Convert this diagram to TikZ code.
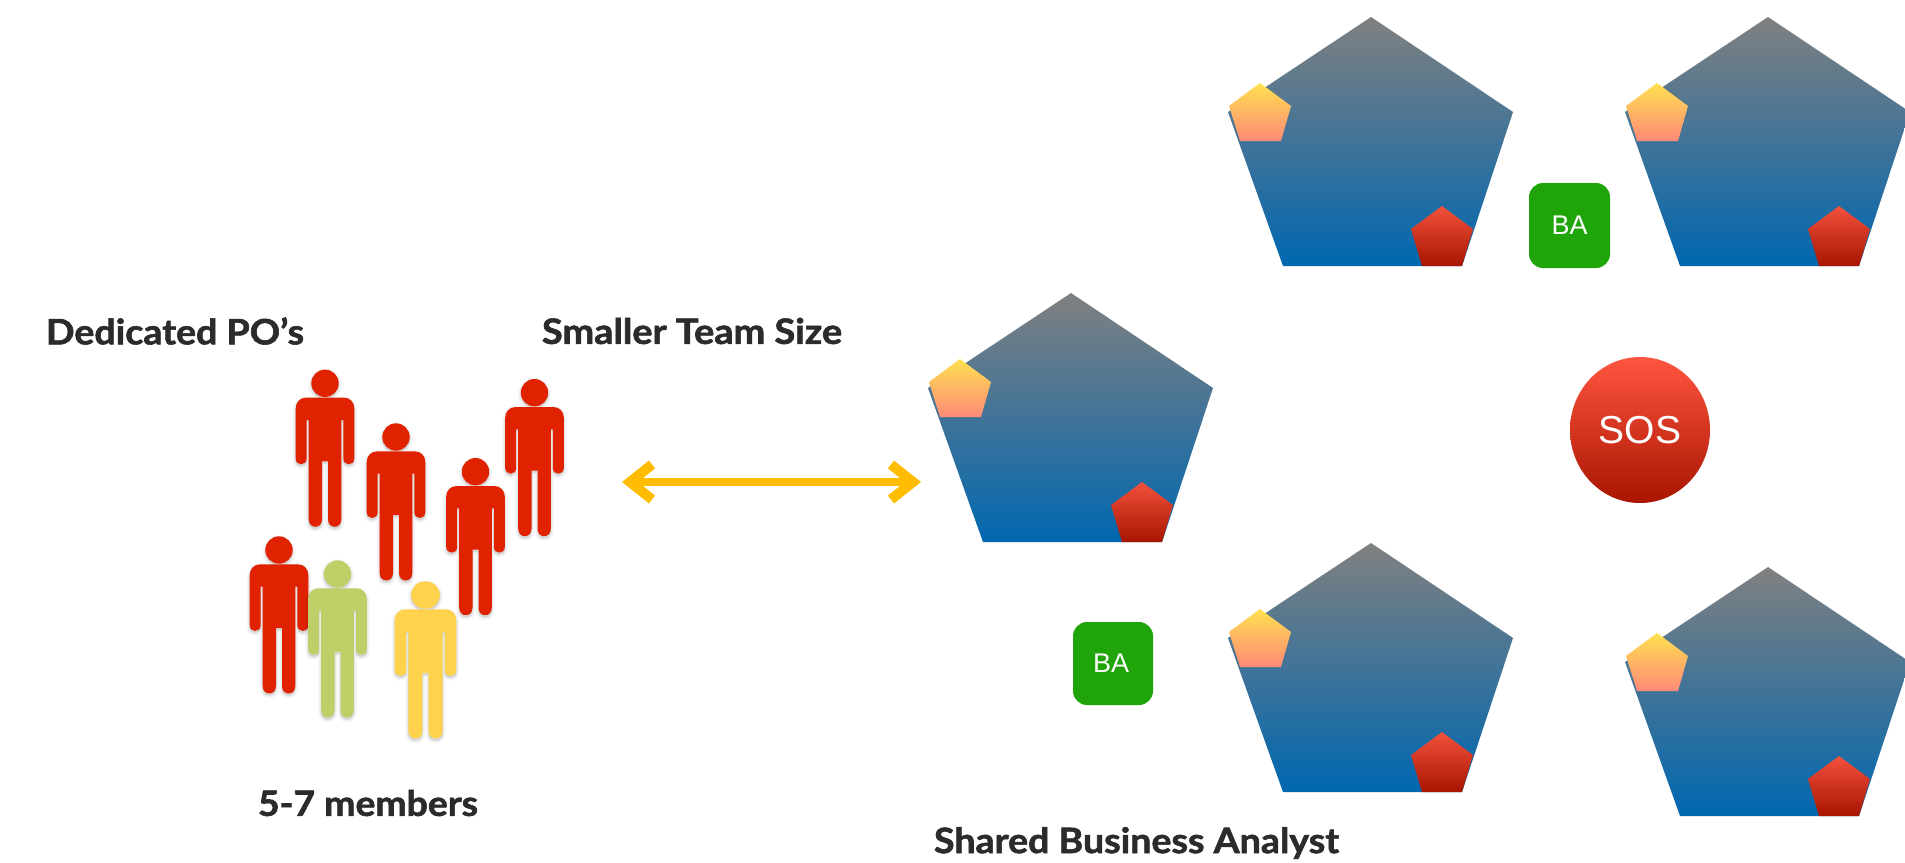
\documentclass[tikz,border=0pt]{standalone}
\usepackage{fontspec}
\usepackage{graphicx}
\setmainfont{Lato}[BoldFeatures={FakeBold=1.6}]
\newfontfamily\helv{Liberation Sans}
\usetikzlibrary{arrows.meta,shapes.geometric}
\definecolor{pred}{HTML}{E02200}
\definecolor{pgreen}{HTML}{BFCF68}
\definecolor{pyellow}{HTML}{FFD24E}
\definecolor{arrowc}{HTML}{FFBC00}
\definecolor{labelc}{HTML}{2B2B2B}
\definecolor{bagreen}{HTML}{1FA50A}
\definecolor{penttop}{HTML}{808080}
\definecolor{pentbot}{HTML}{0067B0}
\definecolor{ytop}{HTML}{FFE050}
\definecolor{ybot}{HTML}{FF8A78}
\definecolor{sostop}{HTML}{FF5540}
\definecolor{sosbot}{HTML}{A81500}
\tikzset{
  lab/.style={text=labelc,font=\bfseries\fontsize{35}{35}\selectfont,inner sep=0pt,anchor=center},
  babox/.style={fill=bagreen,rounded corners=14pt,inner sep=0pt,text=white,font=\helv\fontsize{27}{27}\selectfont},
  sosnode/.style={ellipse,minimum width=140pt,minimum height=146pt,inner sep=0pt,text=white,font=\helv\fontsize{39}{39}\selectfont,top color=sostop,bottom color=sosbot},
}
\newcommand{\teampent}[2]{%
  \begin{scope}[shift={(#1,#2)}]
    \shade[top color=penttop,bottom color=pentbot] (0,0) -- (142,95) -- (91,249) -- (-88,249) -- (-143,95) -- cycle;
    \shade[top color=ytop,bottom color=ybot] (-111,66) -- (-80,89) -- (-90,124) -- (-131,124) -- (-142,89) -- cycle;
    \shade[top color=sostop!95!black,bottom color=sosbot] (71,189) -- (102,212) -- (91,249) -- (51,249) -- (40,212) -- cycle;
  \end{scope}}
\newcommand{\personshape}{%
  (0,0) circle[radius=13.7]
  (-19,14.3) -- (19,14.3) .. controls (25,14.3) and (29.3,19) .. (29.3,25) -- (29.3,75)
  .. controls (29.3,83) and (18.3,83) .. (18.3,75) -- (18.3,36.7) -- (16.3,36.7) -- (16.3,136)
  .. controls (16.3,146) and (3,146) .. (3,136) -- (3,78) -- (-3,78) -- (-3,136)
  .. controls (-3,146) and (-16.3,146) .. (-16.3,136) -- (-16.3,36.7) -- (-18.3,36.7) -- (-18.3,75)
  .. controls (-18.3,83) and (-29.3,83) .. (-29.3,75) -- (-29.3,25) .. controls (-29.3,19) and (-25,14.3) .. (-19,14.3) -- cycle}
\newcommand{\drawperson}[4][1]{%
  \begin{scope}[shift={(#2,#3)},xscale=#1]
    \begin{scope}[shift={(0,2)}]
      \path[draw=black,fill=black,opacity=0.035,line width=6pt,line join=round] \personshape;
      \path[draw=black,fill=black,opacity=0.06,line width=2.5pt,line join=round] \personshape;
    \end{scope}
    \path[fill=#4] \personshape;
  \end{scope}}
\begin{document}
\begin{tikzpicture}[x=1pt,y=-1pt]
\useasboundingbox (0,0) rectangle (1905,862);
\fill[white] (0,0) rectangle (1905,862);
% people
\drawperson{325}{383.3}{pred}
\drawperson{396}{437}{pred}
\drawperson{534.5}{392.7}{pred}
\drawperson{475.5}{471.7}{pred}
\drawperson{279}{550}{pred}
\drawperson{337.5}{574}{pgreen}
\drawperson[1.05]{425.5}{595}{pyellow}
% pentagons
\teampent{1071}{293}
\teampent{1371}{17}
\teampent{1768}{17}
\teampent{1371}{543}
\teampent{1768}{567}
% arrow
\coordinate (arrL) at (622,482);
\coordinate (arrR) at (921,482);
\draw[arrowc,line width=8pt,{Straight Barb[length=22pt,width=35pt,line width=10pt]}-{Straight Barb[length=22pt,width=35pt,line width=10pt]}] (arrL) -- (arrR);
% labels
\node[lab] (dedicated) at (175,331) {\resizebox{258pt}{\height}{Dedicated PO’s}};
\node[lab] (smaller) at (692,331) {\resizebox{300pt}{\height}{Smaller Team Size}};
\node[lab] (members) at (368,803) {\resizebox{220pt}{\height}{5-7 members}};
\node[lab] (shared) at (1136.5,843) {\resizebox{405pt}{\height}{Shared Business Analyst}};
% BA boxes and SOS
\node[babox,minimum width=81pt,minimum height=85pt] (ba1) at (1569.5,225.5) {BA};
\node[babox,minimum width=80pt,minimum height=83pt] (ba2) at (1113,663.5) {\hspace*{-4pt}BA};
\node[sosnode] (sos) at (1640,430) {SOS};
\end{tikzpicture}
\end{document}
